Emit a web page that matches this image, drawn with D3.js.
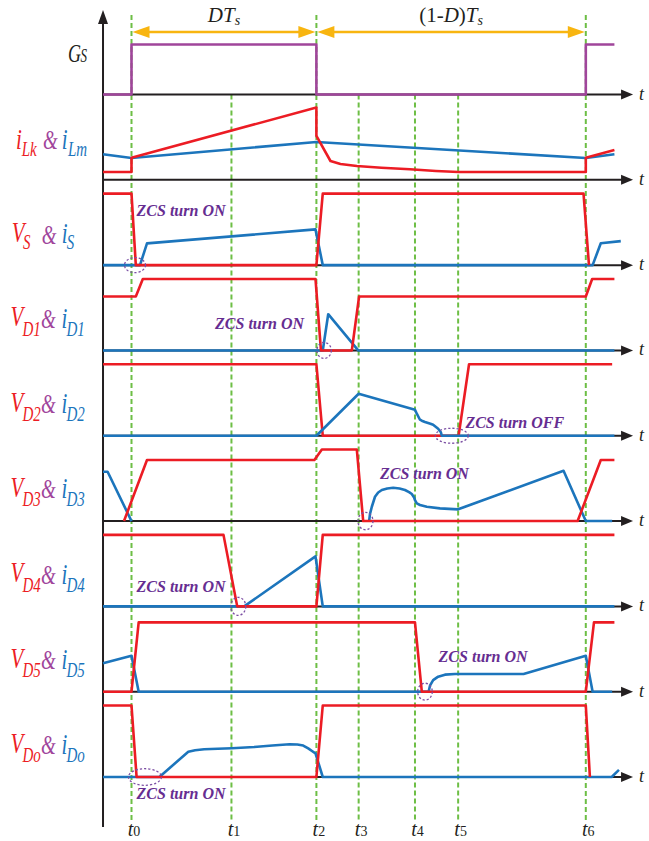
<!DOCTYPE html>
<html>
<head>
<meta charset="utf-8">
<script src="https://cdn.jsdelivr.net/npm/d3@7"></script>
<style>
  body { margin: 0; background: #fff; }
  svg { display: block; }
</style>
</head>
<body>
<svg id="chart" width="649" height="841"></svg>
<script>
// Time is given in % of the switching period Ts (t0 = 0, t6 = 100).
// Trace values are normalised amplitudes (1 = full level of the row).

const tickNames = ["0", "1", "2", "3", "4", "5", "6"];
const tickTimes = [0, 22, 40.7, 50, 62.4, 71.9, 100];
const tickFromTop = [true, false, true, false, false, false, true];

const gate = [[-6.27,0],[0,0],[0,0.7],[40.7,0.7],[40.7,0],[100,0],[100,0.7],[106.3,0.7]];

const iLk = [[-6.27,0.109],[0,0.109],[0,0.31],[40.7,1.01],[40.7,0.613],[43.8,0.263],[46,0.222],
  [49.6,0.193],[55,0.168],[61.3,0.147],[67,0.124],[72,0.109],[100,0.109],[100,0.31],[106.3,0.417]];
const iLm = [[-6.27,0.357],[0,0.305],[40.7,0.529],[100,0.305],[106.3,0.357]];

const vS = [[-6.27,1],[0,1],[0.95,0],[40.7,0],[42.1,1],[99.5,1],[100.7,0]];
const iS = [[-6.27,0],[1.87,0],[3.41,0.304],[40.5,0.5],[42.1,0],[101.5,0],[103.3,0.305],[107.7,0.336]];

const vD1 = [[-6.27,0.755],[0.95,0.755],[2.49,1],[40.5,1],[41.7,0],[48.5,0],[50.1,0.755],
  [100,0.755],[101.4,1],[106.3,1]];
const iD1 = [[-6.27,0],[42.1,0],[43.3,0.507],[49.9,0],[106.3,0]];

const vD2 = [[-6.27,1],[40.7,1],[42.1,0],[72,0],[74.3,1],[105.8,1]];
const iD2 = [[-6.27,0],[40.7,0],[50,0.587],[62.4,0.364],[62.8,0.308],[63.5,0.224],[63.9,0.21],
  [64.6,0.192],[65.8,0.168],[66.4,0.154],[67.5,0.098],[68.1,0.049],[68.3,0],[106.3,0]];

const vD3 = [[-1.65,0],[3.41,0.853],[40.26,0.853],[41.9,1],[49.6,1],[51.0,0],[98.2,0],
  [103.3,0.853],[106.3,0.853]];
const iD3a = [[-6.27,0.69],[-5.26,0.69],[0,0]];
const iD3b = [[52.3,0],[52.5,0.1],[52.9,0.2],[53.6,0.34],[54.3,0.4],[55.1,0.434],[56.3,0.456],
  [57.6,0.465],[59,0.455],[60.2,0.434],[61.1,0.405],[61.7,0.378],[62.2,0.33],[62.4,0.294],
  [62.8,0.248],[63.5,0.225],[65,0.2],[67.9,0.178],[71.9,0.164],[95.1,0.703],[100,0],[105.8,0]];

const vD4 = [[-6.27,1],[20.25,1],[23.27,0],[40.7,0],[42.1,1],[106.3,1]];
const iD4 = [[-6.27,0],[24.8,0],[40.5,0.70],[42.1,0],[106.3,0]];

const vD5 = [[-6.27,0],[0,0],[1.58,0.97],[62.4,0.97],[63.9,0],[100,0],[101.8,0.97],[106.3,0.97]];
const iD5 = [[-6.27,0.397],[0,0.503],[1.58,0],[65.4,0],[65.7,0.084],[66.4,0.161],[67.5,0.21],
  [69,0.238],[71.2,0.248],[86.3,0.248],[100,0.503],[101.5,0],[105.8,0]];

const vDo = [[-6.27,1],[0,1],[1.12,0],[40.7,0],[42.1,1],[100,1],[100.9,0]];
const iDo = [[-6.27,0],[6.14,0],[12.5,0.354],[14,0.375],[16,0.388],[19,0.396],[22.1,0.403],
  [27,0.42],[31,0.44],[34.8,0.457],[36.5,0.455],[37.8,0.44],[38.9,0.40],[39.8,0.36],[40.5,0.33],
  [42.1,0],[105.7,0],[107.3,0.1]];

// ZCS annotations: text, row, start time, height above the row axis
const zcsText  = ["ZCS turn ON","ZCS turn ON","ZCS turn OFF","ZCS turn ON","ZCS turn ON","ZCS turn ON","ZCS turn ON"];
const zcsRow   = [2, 3, 4, 5, 6, 7, 8];
const zcsTime  = [1.12, 18.4, 73.5, 54.7, 1.12, 67.6, 1.12];
const zcsLevel = [0.685, 0.30, 0.108, 0.587, 0.20, 0.41, -0.308];
// dashed rings marking the zero-current instants
const ringRow  = [2, 3, 4, 5, 6, 7, 8];
const ringTime = [0.77, 42.4, 70.5, 51.5, 23.5, 64.6, 2.95];
const ringRx   = [10.5, 7.2, 16.5, 7.5, 7.5, 7.3, 16.5];
const ringRy   = [7.5, 8, 7.5, 8.7, 9, 8.5, 8.3];

const RED = "#ec1c24", BLUE = "#1c75bc", PURPLE = "#a0459b", DARK = "#231f20";
const GREEN = "#6dbe45", ORANGE = "#f8b510", ZCS = "#662d91";
const SERIF = "'Liberation Serif', 'Times New Roman', 'DejaVu Serif', serif";

const svg = d3.select("#chart");
const x = d3.scaleLinear().domain([0, 100]).range([131.5, 585.8]);
const rowY = d3.scaleLinear().domain([0, 8]).range([94.5, 777]);
const amp = d3.scaleLinear().domain([0, 1]).range([0, 71.5]);
const tStart = -6.27, tEnd = 110.4;

const rows = [
  { traces: [[gate, PURPLE]] },
  { traces: [[iLm, BLUE], [iLk, RED]] },
  { traces: [[iS, BLUE], [vS, RED]] },
  { traces: [[iD1, BLUE], [vD1, RED]] },
  { traces: [[vD2, RED], [iD2, BLUE]] },
  { traces: [[iD3a, BLUE], [iD3b, BLUE], [vD3, RED]] },
  { traces: [[iD4, BLUE], [vD4, RED]] },
  { traces: [[iD5, BLUE], [vD5, RED]] },
  { traces: [[iDo, BLUE], [vDo, RED]] }
];

// dashed instants
tickTimes.forEach((t, i) => {
  svg.append("line")
    .attr("x1", x(t)).attr("x2", x(t))
    .attr("y1", tickFromTop[i] ? 15 : rowY(0)).attr("y2", 820)
    .attr("stroke", GREEN).attr("stroke-width", 2).attr("stroke-dasharray", "5,3");
});

// vertical axis
svg.append("line").attr("x1", x(tStart)).attr("x2", x(tStart)).attr("y1", 20).attr("y2", 827)
  .attr("stroke", DARK).attr("stroke-width", 2);
svg.append("path")
  .attr("d", `M${x(tStart)},10 L${x(tStart) - 5},24 L${x(tStart) + 5},24 Z`).attr("fill", DARK);

// horizontal axes of every row
rows.forEach((r, i) => {
  const y = rowY(i);
  svg.append("line").attr("x1", x(tStart)).attr("x2", x(tEnd) - 8).attr("y1", y).attr("y2", y)
    .attr("stroke", DARK).attr("stroke-width", 2);
  svg.append("path")
    .attr("d", `M${x(tEnd)},${y} L${x(tEnd) - 12},${y - 5} L${x(tEnd) - 12},${y + 5} Z`)
    .attr("fill", DARK);
  svg.append("text").attr("x", x(tEnd) + 6).attr("y", y + 5).attr("font-family", SERIF)
    .attr("font-size", 18).attr("font-style", "italic").attr("fill", DARK).text("t");
});

// waveforms
rows.forEach((r, i) => {
  const line = d3.line().x(d => x(d[0])).y(d => rowY(i) - amp(d[1]));
  r.traces.forEach(([data, color]) => {
    svg.append("path").attr("d", line(data)).attr("fill", "none")
      .attr("stroke", color).attr("stroke-width", 2.6)
      .attr("stroke-linejoin", "round").attr("stroke-linecap", "butt");
  });
});

// dashed rings
ringRow.forEach((r, i) => {
  svg.append("ellipse").attr("cx", x(ringTime[i])).attr("cy", rowY(r))
    .attr("rx", ringRx[i]).attr("ry", ringRy[i]).attr("fill", "none")
    .attr("stroke", "#7b4ea3").attr("stroke-width", 1.3).attr("stroke-dasharray", "2.2,2");
});

// ZCS notes
zcsText.forEach((s, i) => {
  svg.append("text").attr("x", x(zcsTime[i])).attr("y", rowY(zcsRow[i]) - amp(zcsLevel[i]))
    .attr("font-family", SERIF)
    .attr("font-size", 16).attr("font-weight", "bold").attr("font-style", "italic")
    .attr("fill", ZCS).text(s);
});

// DTs / (1-D)Ts spans
function span(t1, t2) {
  const y = 32, a = x(t1), b = x(t2);
  svg.append("line").attr("x1", a + 10).attr("x2", b - 10).attr("y1", y).attr("y2", y)
    .attr("stroke", ORANGE).attr("stroke-width", 2.6);
  svg.append("path").attr("d", `M${a + 1},${y} L${a + 18},${y - 6} L${a + 18},${y + 6} Z`).attr("fill", ORANGE);
  svg.append("path").attr("d", `M${b - 1},${y} L${b - 18},${y - 6} L${b - 18},${y + 6} Z`).attr("fill", ORANGE);
}
span(tickTimes[0], tickTimes[2]);
span(tickTimes[2], tickTimes[6]);

const hdr1 = svg.append("text").attr("x", x((tickTimes[0] + tickTimes[2]) / 2)).attr("y", 22)
  .attr("text-anchor", "middle").attr("font-family", SERIF).attr("font-size", 21).attr("fill", DARK);
hdr1.append("tspan").attr("font-style", "italic").text("DT");
hdr1.append("tspan").attr("font-style", "italic").attr("font-size", 14).attr("dy", 3).text("s");

const hdr2 = svg.append("text").attr("x", x((tickTimes[2] + tickTimes[6]) / 2)).attr("y", 22)
  .attr("text-anchor", "middle").attr("font-family", SERIF).attr("font-size", 21).attr("fill", DARK);
hdr2.append("tspan").text("(1-");
hdr2.append("tspan").attr("font-style", "italic").text("D");
hdr2.append("tspan").text(")");
hdr2.append("tspan").attr("font-style", "italic").text("T");
hdr2.append("tspan").attr("font-style", "italic").attr("font-size", 14).attr("dy", 3).text("s");

// bottom time labels
const bottom = svg.append("g").attr("transform", "translate(0,821)")
  .call(d3.axisBottom(x).tickValues(tickTimes).tickSize(0).tickFormat(""));
bottom.select(".domain").remove();
bottom.selectAll(".tick text").each(function (d, i) {
  const t = d3.select(this).attr("y", 15).attr("dy", 0).attr("dx", 2)
    .attr("text-anchor", "middle").attr("fill", DARK).attr("font-size", 20)
    .attr("font-family", SERIF);
  t.append("tspan").attr("font-style", "italic").text("t");
  t.append("tspan").attr("font-size", 14).attr("dy", 0).text(tickNames[i]);
});

// row titles (tall serif italic lettering)
const STRETCH = 1.45;
function title(baseline, parts) {
  const g = svg.append("g").attr("transform", `translate(0,${baseline}) scale(1,${STRETCH})`);
  parts.forEach(([px, s, size, color, dy]) => {
    g.append("text").attr("x", px).attr("y", dy / STRETCH).attr("font-family", SERIF)
      .attr("font-size", size).attr("font-style", "italic")
      .attr("fill", color).text(s);
  });
}
title(rowY(0) - 33, [[68, "G", 18, DARK, 0], [80.5, "S", 13, DARK, 0]]);
title(rowY(1) - 30.5, [[16, "i", 21, RED, 0], [21.7, "Lk", 15, RED, 6.7],
  [43, "&", 19, PURPLE, 0], [61.7, "i", 21, BLUE, 0], [68, "Lm", 15, BLUE, 7]]);
title(rowY(2) - 23.3, [[11.7, "V", 21, RED, 0], [23, "S", 15, RED, 7.3],
  [41.7, "&", 19, PURPLE, 2.3], [61.7, "i", 21, BLUE, 1.6], [66.7, "S", 15, BLUE, 7.3]]);
const subs = ["D1", "D2", "D3", "D4", "D5", "Do"];
subs.forEach((s, k) => {
  title(rowY(k + 3) - 24, [[10.5, "V", 21, RED, 0], [22.5, s, 15, RED, 9.3],
    [41, "&", 19, PURPLE, 1.3], [61.5, "i", 21, BLUE, 1.3], [66.5, s, 15, BLUE, 9.3]]);
});
</script>
</body>
</html>
